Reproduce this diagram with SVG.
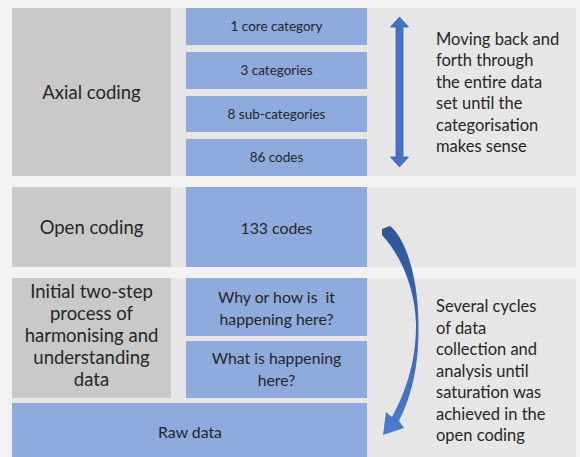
<svg xmlns="http://www.w3.org/2000/svg" width="580" height="457" viewBox="0 0 580 457">
<defs>
<style>
.bg{fill:#f2f2f2}
.panel{fill:#e6e6e6}
.gray{fill:#c9c9c9}
.blue{fill:#8faadc}
text{font-family:Lato,"Open Sans","Liberation Sans",sans-serif;fill:#262626}
.big{font-size:18.5px;text-anchor:middle}
.sm{font-size:13.5px;text-anchor:middle}
.md{font-size:15.8px;text-anchor:middle}
.note{font-size:16.5px}
.arrow{fill:#4472c4}
</style>
<linearGradient id="cg" x1="0" y1="0" x2="0" y2="1">
<stop offset="0" stop-color="#2f5597"/>
<stop offset="1" stop-color="#4a7bd0"/>
</linearGradient>
</defs>
<rect class="bg" x="0" y="0" width="580" height="457"/>
<rect class="panel" x="12" y="8" width="564" height="168"/>
<rect class="panel" x="12" y="187" width="564" height="80"/>
<rect class="panel" x="12" y="278" width="564" height="179"/>

<g id="axial">
<rect class="gray" x="12" y="8" width="159" height="168"/>
<text class="big" x="91.5" y="99">Axial coding</text>
</g>
<g id="core">
<rect class="blue" x="186" y="8" width="181" height="37"/>
<text class="sm" x="276.5" y="31">1 core category</text>
</g>
<g id="categories">
<rect class="blue" x="186" y="52" width="181" height="37"/>
<text class="sm" x="276.5" y="75">3 categories</text>
</g>
<g id="subcategories">
<rect class="blue" x="186" y="96" width="181" height="36"/>
<text class="sm" x="276.5" y="119">8 sub-categories</text>
</g>
<g id="codes86">
<rect class="blue" x="186" y="139" width="181" height="37"/>
<text class="sm" x="276.5" y="162">86 codes</text>
</g>
<g id="axial-note">
<text class="note" x="436"><tspan x="436" y="44.5">Moving back and</tspan><tspan x="436" y="66">forth through</tspan><tspan x="436" y="87.5">the entire data</tspan><tspan x="436" y="109">set until the</tspan><tspan x="436" y="130.5">categorisation</tspan><tspan x="436" y="152">makes sense</tspan></text>
</g>

<g id="open">
<rect class="gray" x="12" y="187" width="159" height="80"/>
<text class="big" x="91.5" y="234">Open coding</text>
</g>
<g id="codes133">
<rect class="blue" x="186" y="187" width="181" height="80"/>
<text class="md" x="276.5" y="234">133 codes</text>
</g>

<g id="initial">
<rect class="gray" x="12" y="278" width="159" height="120"/>
<text class="big"><tspan x="91.5" y="298">Initial two-step</tspan><tspan x="91.5" y="320">process of</tspan><tspan x="91.5" y="342">harmonising and</tspan><tspan x="91.5" y="364">understanding</tspan><tspan x="91.5" y="386">data</tspan></text>
</g>
<g id="why">
<rect class="blue" x="186" y="278" width="181" height="58"/>
<text class="md" style="white-space:pre"><tspan x="276.5" y="303">Why or how is  it</tspan><tspan x="276.5" y="325">happening here?</tspan></text>
</g>
<g id="what">
<rect class="blue" x="186" y="341" width="181" height="57"/>
<text class="md"><tspan x="276.5" y="364">What is happening</tspan><tspan x="276.5" y="386">here?</tspan></text>
</g>
<g id="raw">
<rect class="blue" x="12" y="403" width="355" height="54"/>
<text class="md" x="190" y="438">Raw data</text>
</g>
<g id="cycles-note">
<text class="note"><tspan x="436" y="312">Several cycles</tspan><tspan x="436" y="333.5">of data</tspan><tspan x="436" y="355">collection and</tspan><tspan x="436" y="376.5">analysis until</tspan><tspan x="436" y="398">saturation was</tspan><tspan x="436" y="419.5">achieved in the</tspan><tspan x="436" y="441">open coding</tspan></text>
</g>

<g id="connectors">
<path class="arrow" stroke="#3a64b0" stroke-width="0.8" d="M399.5 17 L408.5 27 L403 27 L403 157 L408.5 157 L399.5 167 L390.5 157 L396 157 L396 27 L390.5 27 Z"/>
<path fill="url(#cg)" d="M382 229 L390 226 C403 236 418 270 418.5 325 C419 365 412 395 399 421 L404 428 L383 435 L386 412 L392 417 C404 395 416 365 416 325 C415.5 285 398 252 382 235 Z"/>
</g>
</svg>
